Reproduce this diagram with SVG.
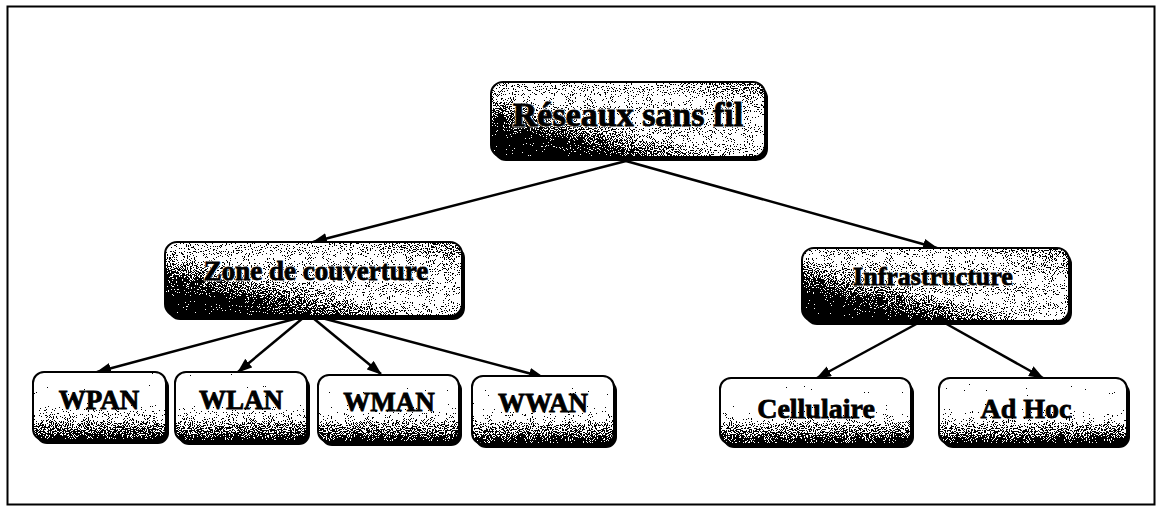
<svg xmlns="http://www.w3.org/2000/svg" width="1157" height="506" viewBox="0 0 1157 506">
<style>
.frame{fill:#fff;stroke:#000;stroke-width:2}
.shadow{fill:#000}
.body{stroke:none}
.edge{fill:none;stroke:#000;stroke-width:2}
.lbl{font-family:"Liberation Serif","Times New Roman",serif;font-weight:bold;fill:#000;text-anchor:middle;stroke:#000;stroke-width:0.8}
.halo{font-family:"Liberation Serif","Times New Roman",serif;font-weight:bold;fill:#fff;text-anchor:middle;stroke:#fff;stroke-width:3;stroke-linejoin:round;opacity:0.6}
.conn{stroke:#000;stroke-width:2.5;fill:none;marker-end:url(#ah)}
</style>
<defs>
<marker id="ah" markerUnits="userSpaceOnUse" markerWidth="16" markerHeight="12" refX="14" refY="5.5" orient="auto">
<path d="M0,0 L15,5.5 L0,11 z" fill="#000"/>
</marker>
<linearGradient id="gTop" x1="0" y1="1" x2="1" y2="0">
<stop offset="0" stop-color="#000"/>
<stop offset="0.2" stop-color="#333"/>
<stop offset="0.45" stop-color="#b4b4b4"/>
<stop offset="0.75" stop-color="#bcbcbc"/>
<stop offset="1" stop-color="#7a7a7a"/>
</linearGradient>
<linearGradient id="gLeaf" x1="0" y1="0" x2="0" y2="1">
<stop offset="0" stop-color="#fff"/>
<stop offset="0.45" stop-color="#fafafa"/>
<stop offset="0.7" stop-color="#a0a0a0"/>
<stop offset="1" stop-color="#484848"/>
</linearGradient>
<filter id="dither" x="0" y="0" width="100%" height="100%" color-interpolation-filters="sRGB">
<feTurbulence type="fractalNoise" baseFrequency="0.95" numOctaves="2" seed="5" result="n"/>
<feColorMatrix in="n" type="matrix" values="1 0 0 0 0  1 0 0 0 0  1 0 0 0 0  0 0 0 0 1" result="ng"/>
<feComposite in="SourceGraphic" in2="ng" operator="arithmetic" k1="0" k2="1.3" k3="2" k4="-1.15" result="sum"/>
<feComponentTransfer in="sum" result="th">
<feFuncR type="discrete" tableValues="0 1"/>
<feFuncG type="discrete" tableValues="0 1"/>
<feFuncB type="discrete" tableValues="0 1"/>
</feComponentTransfer>
<feComposite in="th" in2="SourceGraphic" operator="in"/>
</filter>
</defs>

<rect class="frame" x="7.5" y="6.5" width="1147" height="498"/>

<g id="connectors">
<line class="conn" x1="626" y1="161" x2="313" y2="242"/>
<line class="conn" x1="626" y1="161" x2="937" y2="248"/>
<line class="conn" x1="298" y1="318" x2="97" y2="372"/>
<line class="conn" x1="303" y1="318" x2="238" y2="372"/>
<line class="conn" x1="313" y1="318" x2="381" y2="374"/>
<line class="conn" x1="322" y1="318" x2="543" y2="377"/>
<line class="conn" x1="920" y1="322" x2="817" y2="378"/>
<line class="conn" x1="943" y1="322" x2="1043" y2="378"/>
</g>

<g id="node-root">
<rect class="shadow" x="494" y="86" width="274" height="75" rx="12"/>
<rect class="body" x="491" y="82" width="274" height="75" rx="12" fill="url(#gTop)" filter="url(#dither)"/>
<rect class="edge" x="491" y="82" width="274" height="75" rx="12"/>
<text class="halo" x="628" y="126" font-size="34">Réseaux sans fil</text>
<text class="lbl" x="628" y="126" font-size="34">Réseaux sans fil</text>
</g>

<g id="node-zone">
<rect class="shadow" x="168" y="246" width="297" height="74" rx="12"/>
<rect class="body" x="165" y="242" width="297" height="74" rx="12" fill="url(#gTop)" filter="url(#dither)"/>
<rect class="edge" x="165" y="242" width="297" height="74" rx="12"/>
<text class="halo" x="316" y="280" font-size="27">Zone de couverture</text>
<text class="lbl" x="316" y="280" font-size="27">Zone de couverture</text>
</g>

<g id="node-infra">
<rect class="shadow" x="805" y="252" width="267" height="73" rx="12"/>
<rect class="body" x="802" y="248" width="267" height="73" rx="12" fill="url(#gTop)" filter="url(#dither)"/>
<rect class="edge" x="802" y="248" width="267" height="73" rx="12"/>
<text class="halo" x="933" y="285" font-size="26">Infrastructure</text>
<text class="lbl" x="933" y="285" font-size="26">Infrastructure</text>
</g>

<g id="node-wpan">
<rect class="shadow" x="36" y="376" width="133" height="68" rx="11"/>
<rect class="body" x="33" y="372" width="133" height="68" rx="11" fill="url(#gLeaf)" filter="url(#dither)"/>
<rect class="edge" x="33" y="372" width="133" height="68" rx="11"/>
<text class="lbl" x="99" y="409" font-size="27">WPAN</text>
</g>

<g id="node-wlan">
<rect class="shadow" x="178" y="376" width="132" height="69" rx="11"/>
<rect class="body" x="175" y="372" width="132" height="69" rx="11" fill="url(#gLeaf)" filter="url(#dither)"/>
<rect class="edge" x="175" y="372" width="132" height="69" rx="11"/>
<text class="lbl" x="241" y="409" font-size="27">WLAN</text>
</g>

<g id="node-wman">
<rect class="shadow" x="321" y="379" width="141" height="67" rx="11"/>
<rect class="body" x="318" y="375" width="141" height="67" rx="11" fill="url(#gLeaf)" filter="url(#dither)"/>
<rect class="edge" x="318" y="375" width="141" height="67" rx="11"/>
<text class="lbl" x="389" y="411" font-size="27">WMAN</text>
</g>

<g id="node-wwan">
<rect class="shadow" x="475" y="380" width="142" height="68" rx="11"/>
<rect class="body" x="472" y="376" width="142" height="68" rx="11" fill="url(#gLeaf)" filter="url(#dither)"/>
<rect class="edge" x="472" y="376" width="142" height="68" rx="11"/>
<text class="lbl" x="543" y="412" font-size="27">WWAN</text>
</g>

<g id="node-cellulaire">
<rect class="shadow" x="723" y="382" width="191" height="66" rx="11"/>
<rect class="body" x="720" y="378" width="191" height="66" rx="11" fill="url(#gLeaf)" filter="url(#dither)"/>
<rect class="edge" x="720" y="378" width="191" height="66" rx="11"/>
<text class="lbl" x="816" y="418" font-size="28">Cellulaire</text>
</g>

<g id="node-adhoc">
<rect class="shadow" x="942" y="382" width="188" height="66" rx="11"/>
<rect class="body" x="939" y="378" width="188" height="66" rx="11" fill="url(#gLeaf)" filter="url(#dither)"/>
<rect class="edge" x="939" y="378" width="188" height="66" rx="11"/>
<text class="lbl" x="1026" y="418" font-size="28">Ad Hoc</text>
</g>
</svg>
